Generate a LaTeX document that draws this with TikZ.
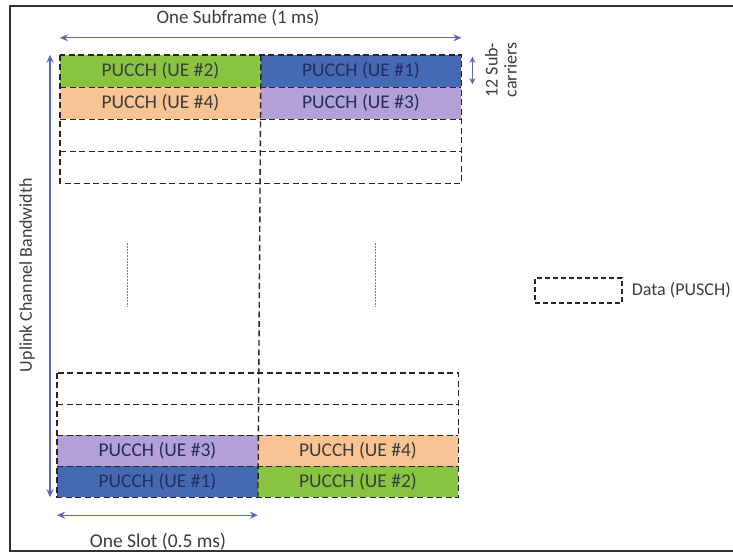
\documentclass[tikz,border=0pt]{standalone}
\usepackage{fontspec}
\setmainfont{Carlito}
\usetikzlibrary{positioning,arrows.meta}
\definecolor{uegreen}{RGB}{137,196,64}
\definecolor{ueblue}{RGB}{70,105,180}
\definecolor{ueorange}{RGB}{249,196,148}
\definecolor{uepurple}{RGB}{178,160,214}
\definecolor{arrowblue}{RGB}{84,104,190}
\definecolor{textgray}{RGB}{60,60,60}
\definecolor{navytext}{RGB}{35,45,95}
\begin{document}
\begin{tikzpicture}[x=1pt, y=-1pt,
    cell/.style={rectangle, minimum width=200.5pt, minimum height=32pt, inner sep=0pt, font=\fontsize{19.5}{21}\selectfont, text=textgray},
    grid/.style={draw=black!85, line width=1.4pt, dash pattern=on 6pt off 3.5pt},
    dim/.style={draw=arrowblue, line width=1.3pt, {Stealth[length=8pt,width=7pt]}-{Stealth[length=8pt,width=7pt]}},
    lbl/.style={font=\fontsize{19.5}{19}\selectfont, text=textgray, inner sep=0pt},
    dotmark/.style={draw=black!50, line width=0.7pt, dash pattern=on 1.5pt off 1.5pt}
]
\useasboundingbox (0,0) rectangle (733,557);
% cadre
\draw[line width=2pt, draw=black!80] (745,6) -- (10,6) -- (10,551) -- (745,551);

% bande du haut
\node[cell, fill=uegreen] (aL1) at (160.5, 71) {PUCCH (UE \#2)};
\node[cell, fill=ueblue, text=navytext] (aR1) at (361, 71) {PUCCH (UE \#1)};
\node[cell, fill=ueorange] (aL2) at (160.5, 103) {PUCCH (UE \#4)};
\node[cell, fill=uepurple, text=navytext] (aR2) at (361, 103) {PUCCH (UE \#3)};
\node[cell] (aL3) at (160.5, 135) {};
\node[cell] (aR3) at (361, 135) {};
\node[cell] (aL4) at (160.5, 167) {};
\node[cell] (aR4) at (361, 167) {};

% bande du bas
\node[cell, minimum height=31pt] (bL1) at (157.5, 388.5) {};
\node[cell, minimum height=31pt] (bR1) at (358, 388.5) {};
\node[cell, minimum height=31pt] (bL2) at (157.5, 419.5) {};
\node[cell, minimum height=31pt] (bR2) at (358, 419.5) {};
\node[cell, minimum height=31pt, fill=uepurple, text=navytext] (bL3) at (157.5, 450.5) {PUCCH (UE \#3)};
\node[cell, minimum height=31pt, fill=ueorange] (bR3) at (358, 450.5) {PUCCH (UE \#4)};
\node[cell, minimum height=31pt, fill=ueblue, text=navytext] (bL4) at (157.5, 481.5) {PUCCH (UE \#1)};
\node[cell, minimum height=31pt, fill=uegreen] (bR4) at (358, 481.5) {PUCCH (UE \#2)};

% grille
\draw[grid] (aL1.north west) rectangle (aR4.south east);
\draw[grid] (bL1.north west) rectangle (bR4.south east);
\foreach \r in {1,2,3} {
  \draw[grid] (aL\r.south west) -- (aR\r.south east);
  \draw[grid] (bL\r.south west) -- (bR\r.south east);
}
\draw[grid] (aL1.north east) -- (bL4.south east);

% points de suite
\draw[dotmark] (127, 243) -- (127, 307);
\draw[dotmark] (375, 243) -- (375, 307);

% cotes
\coordinate (bw) at (50, 0);
\draw[dim] ([yshift=17pt]aL1.north west) -- ([yshift=17pt]aR1.north east);
\node[lbl, font=\fontsize{19}{21}\selectfont] (subframe) at (238, 18) {One Subframe (1 ms)};
\draw[dim] (bw |- aL1.north) -- (bw |- bL4.south);
\node[lbl, rotate=90, font=\fontsize{18}{19}\selectfont] (bwlbl) at (27, 275) {Uplink Channel Bandwidth};
\draw[dim, {Stealth[length=6pt,width=6pt]}-{Stealth[length=6pt,width=6pt]}, shorten <=2pt, shorten >=3pt] ([xshift=11pt]aR1.north east) -- ([xshift=11pt]aR1.south east);
\node[lbl, rotate=90, align=center, font=\fontsize{18}{19}\selectfont] (subc) at (501, 70) {12 Sub-\\carriers};
\draw[dim] ([yshift=-18pt]bL4.south west) -- ([yshift=-18pt]bL4.south east);
\node[lbl] (slot) at (158, 542) {One Slot (0.5 ms)};

% legende
\node[draw=black!85, line width=1.3pt, dash pattern=on 5pt off 3pt, minimum width=87pt, minimum height=25pt, inner sep=0pt] (pusch) at (578.5, 290.5) {};
\node[lbl, right=9pt of pusch, font=\fontsize{18}{19}\selectfont] (puschtxt) {Data (PUSCH)};
\end{tikzpicture}
\end{document}
